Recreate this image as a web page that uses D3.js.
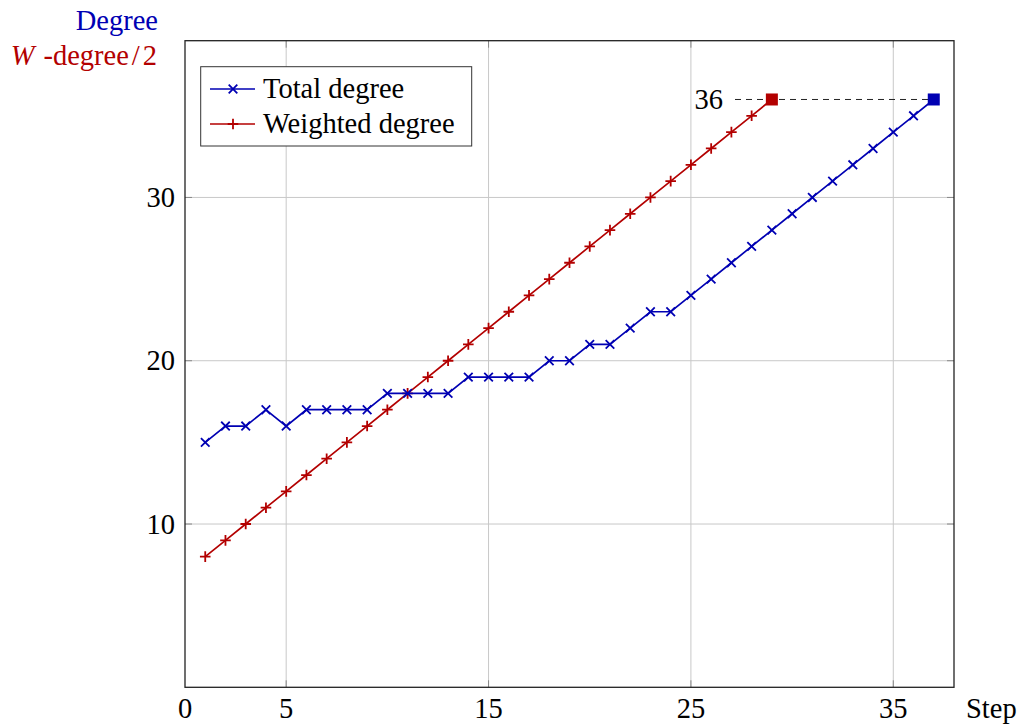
<!DOCTYPE html>
<html><head><meta charset="utf-8">
<script src="https://cdn.jsdelivr.net/npm/d3@7"></script>
<style>body{margin:0;background:#fff;}</style>
</head>
<body><svg id="c" width="1017" height="727"></svg>
<script>
const totalSteps = [1,2,3,4,5,6,7,8,9,10,11,12,13,14,15,16,17,18,19,20,21,22,23,24,25,26,27,28,29,30,31,32,33,34,35,36,37];
const totalDegree = [15,16,16,17,16,17,17,17,17,18,18,18,18,19,19,19,19,20,20,21,21,22,23,23,24,25,26,27,28,29,30,31,32,33,34,35,36];
const weightedSteps = [1,2,3,4,5,6,7,8,9,10,11,12,13,14,15,16,17,18,19,20,21,22,23,24,25,26,27,28,29];
const weightedDegree = [8,9,10,11,12,13,14,15,16,17,18,19,20,21,22,23,24,25,26,27,28,29,30,31,32,33,34,35,36];
const xTicks = [0,5,15,25,35];
const yTicks = [10,20,30];
const finalValue = 36;

const BLUE = "#0000b3", RED = "#b30000";
const FONT = '"Liberation Serif"';
const FS = 28.5;
const svg = d3.select("#c");
const L = 185, R = 954, T = 40.7, B = 687.3;
const x = d3.scaleLinear().domain([0,38]).range([L,R]);
const y = d3.scaleLinear().domain([0,39.6]).range([B,T]);

function txt(sel){ return sel.append("text").style("font-family",FONT).attr("font-size",FS); }

const g = svg.append("g");
g.selectAll(".gx").data(xTicks.filter(d=>d>0)).enter().append("line")
  .attr("x1",d=>x(d)).attr("x2",d=>x(d)).attr("y1",T).attr("y2",B)
  .attr("stroke","#c8c8c8").attr("stroke-width",1);
g.selectAll(".gy").data(yTicks).enter().append("line")
  .attr("y1",d=>y(d)).attr("y2",d=>y(d)).attr("x1",L).attr("x2",R)
  .attr("stroke","#c8c8c8").attr("stroke-width",1);
g.selectAll(".tx").data(xTicks.filter(d=>d>0)).enter().append("line")
  .attr("x1",d=>x(d)).attr("x2",d=>x(d)).attr("y1",B).attr("y2",B-7)
  .attr("stroke","#888").attr("stroke-width",1);
g.selectAll(".tx2").data(xTicks.filter(d=>d>0)).enter().append("line")
  .attr("x1",d=>x(d)).attr("x2",d=>x(d)).attr("y1",T).attr("y2",T+7)
  .attr("stroke","#888").attr("stroke-width",1);
g.selectAll(".ty").data(yTicks).enter().append("line")
  .attr("y1",d=>y(d)).attr("y2",d=>y(d)).attr("x1",L).attr("x2",L+7)
  .attr("stroke","#888").attr("stroke-width",1);
g.selectAll(".ty2").data(yTicks).enter().append("line")
  .attr("y1",d=>y(d)).attr("y2",d=>y(d)).attr("x1",R).attr("x2",R-7)
  .attr("stroke","#888").attr("stroke-width",1);

svg.append("rect").attr("x",L).attr("y",T).attr("width",R-L).attr("height",B-T)
  .attr("fill","none").attr("stroke","#222").attr("stroke-width",1.3);

xTicks.forEach(d=>txt(svg).attr("x",x(d)).attr("y",B+31).attr("text-anchor","middle").text(d));
yTicks.forEach(d=>txt(svg).attr("x",L-10).attr("y",y(d)+9.5).attr("text-anchor","end").text(d));
txt(svg).attr("x",966).attr("y",B+31).text("Step");

txt(svg).attr("x",158).attr("y",30).attr("text-anchor","end").attr("fill",BLUE).text("Degree");
const wl = txt(svg).attr("x",157).attr("y",65).attr("text-anchor","end").attr("fill",RED);
wl.append("tspan").attr("font-style","italic").text("W");
wl.append("tspan").attr("dx",9).text("-degree");
wl.append("tspan").attr("dx",3).text("/");
wl.append("tspan").attr("dx",3).text("2");

svg.append("line").attr("x1",735).attr("x2",x(37)).attr("y1",y(finalValue)).attr("y2",y(finalValue))
  .attr("stroke","#222").attr("stroke-width",1).attr("stroke-dasharray","6,5");
txt(svg).attr("x",723).attr("y",y(finalValue)+10).attr("text-anchor","end").text(finalValue);

function xMark(sel, px, py, col){
  const s=4.3;
  sel.append("path").attr("d",`M${px-s},${py-s}L${px+s},${py+s}M${px-s},${py+s}L${px+s},${py-s}`)
    .attr("stroke",col).attr("stroke-width",1.8).attr("fill","none");
}
function plusMark(sel, px, py, col){
  const s=5.3;
  sel.append("path").attr("d",`M${px-s},${py}L${px+s},${py}M${px},${py-s}L${px},${py+s}`)
    .attr("stroke",col).attr("stroke-width",1.8).attr("fill","none");
}
const line = d3.line().x(d=>x(d[0])).y(d=>y(d[1]));

const wData = weightedSteps.map((s,i)=>[s,weightedDegree[i]]);
svg.append("path").datum(wData).attr("d",line).attr("fill","none").attr("stroke",RED).attr("stroke-width",1.7);
const wm = svg.append("g");
wData.slice(0,-1).forEach(d=>plusMark(wm,x(d[0]),y(d[1]),RED));
const wl2 = wData[wData.length-1];
svg.append("rect").attr("x",x(wl2[0])-6).attr("y",y(wl2[1])-6).attr("width",12).attr("height",12).attr("fill",RED);

const tData = totalSteps.map((s,i)=>[s,totalDegree[i]]);
svg.append("path").datum(tData).attr("d",line).attr("fill","none").attr("stroke",BLUE).attr("stroke-width",1.7);
const tm = svg.append("g");
tData.slice(0,-1).forEach(d=>xMark(tm,x(d[0]),y(d[1]),BLUE));
const tl = tData[tData.length-1];
svg.append("rect").attr("x",x(tl[0])-6).attr("y",y(tl[1])-6).attr("width",12).attr("height",12).attr("fill",BLUE);

const lg = svg.append("g");
lg.append("rect").attr("x",200.7).attr("y",66.7).attr("width",271).attr("height",79.3)
  .attr("fill","#fff").attr("stroke","#333").attr("stroke-width",1);
const items = [{name:"Total degree",col:BLUE,mk:xMark,yy:89},{name:"Weighted degree",col:RED,mk:plusMark,yy:124}];
items.forEach(it=>{
  lg.append("line").attr("x1",210).attr("x2",255).attr("y1",it.yy).attr("y2",it.yy)
    .attr("stroke",it.col).attr("stroke-width",1.7);
  it.mk(lg,233,it.yy,it.col);
  txt(lg).attr("x",263).attr("y",it.yy+9).text(it.name);
});
</script></body></html>
